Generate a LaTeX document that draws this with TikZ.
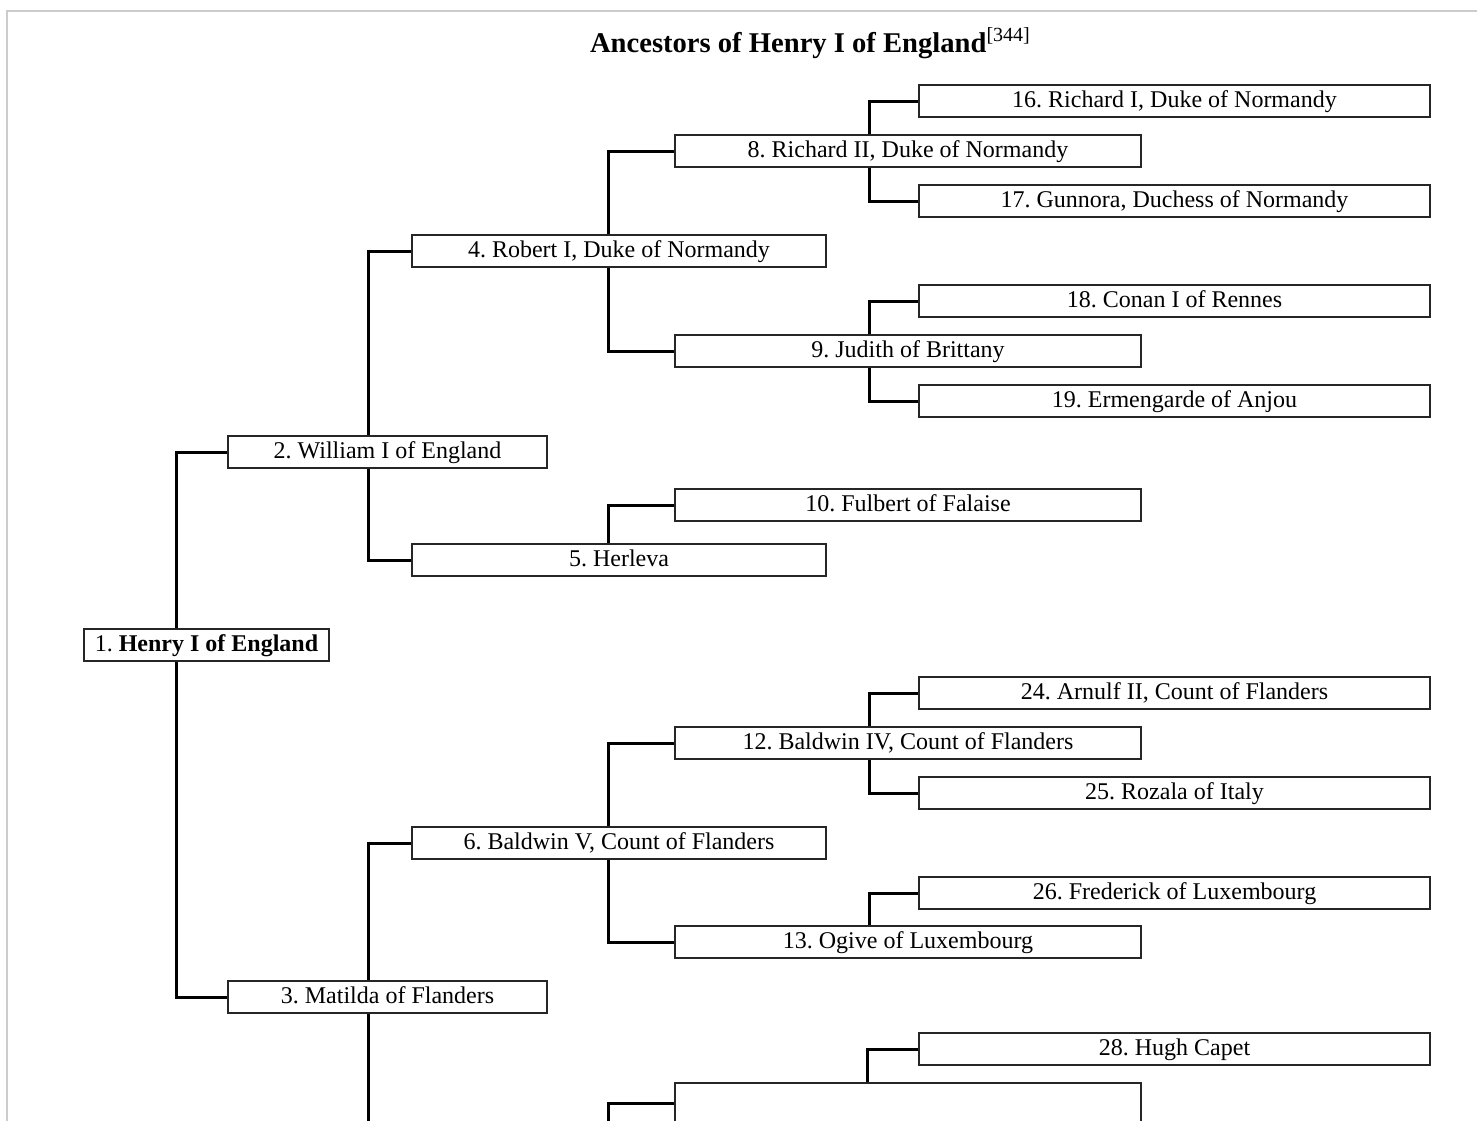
\documentclass[tikz,border=0pt]{standalone}
\usepackage{fontspec}
\setmainfont{Liberation Serif}
\usepackage{tikz}
\usetikzlibrary{calc, positioning}
\frenchspacing

\begin{document}
\begin{tikzpicture}[x=0.5pt, y=-0.5pt,
        anc/.style={draw=black!85, line width=0.9pt, fill=white, inner sep=0pt,
            minimum height=16pt, text height=9.3pt, text depth=2.5pt,
            font=\fontsize{12}{14}\selectfont},
        gena/.style={anc, minimum width=122.5pt},
        genb/.style={anc, minimum width=159.5pt},
        genc/.style={anc, minimum width=207pt},
        gend/.style={anc, minimum width=233pt},
        gene/.style={anc, minimum width=255.5pt},
        link/.style={line width=1.5pt, black}]
            \path[use as bounding box] (0,0) rectangle (1477,1120);
            \clip (0,0) rectangle (1477,1120);
            \draw[gray!40, line width=1pt] (7,1140) -- (7,11) -- (1490,11);

            \node[anchor=base west, font=\fontsize{14.3}{17}\selectfont\bfseries] (title) at (583,52)
                {Ancestors of Henry I of England\textsuperscript{\normalfont[344]}};

            % columns of the connectors
            \coordinate (c1) at (176,0);
            \coordinate (c2) at (368,0);
            \coordinate (c3) at (608,0);
            \coordinate (c4) at (869,0);
            \coordinate (below) at (0,1140);

            \node[gena] (n1) at (206.5,645) {1. \textbf{Henry I of England}};

            \node[genb] (n2) at (387.5,452) {2. William I of England};
            \node[genb] (n3) at (387.5,997) {3. Matilda of Flanders};

            \node[genc] (n4) at (619,251) {4. Robert I, Duke of Normandy};
            \node[genc] (n5) at (619,560) {5. Herleva};
            \node[genc] (n6) at (619,843) {6. Baldwin V, Count of Flanders};

            \node[gend] (n8) at (908,151) {8. Richard II, Duke of Normandy};
            \node[gend] (n9) at (908,351) {9. Judith of Brittany};
            \node[gend] (n10) at (908,505) {10. Fulbert of Falaise};
            \node[gend] (n12) at (908,743) {12. Baldwin IV, Count of Flanders};
            \node[gend] (n13) at (908,942) {13. Ogive of Luxembourg};
            \node[gend, minimum height=20pt] (n14) at (908,1103) {};

            \node[gene] (n16) at (1174.5,101) {16. Richard I, Duke of Normandy};
            \node[gene] (n17) at (1174.5,201) {17. Gunnora, Duchess of Normandy};
            \node[gene] (n18) at (1174.5,301) {18. Conan I of Rennes};
            \node[gene] (n19) at (1174.5,401) {19. Ermengarde of Anjou};
            \node[gene] (n24) at (1174.5,693) {24. Arnulf II, Count of Flanders};
            \node[gene] (n25) at (1174.5,793) {25. Rozala of Italy};
            \node[gene] (n26) at (1174.5,893) {26. Frederick of Luxembourg};
            \node[gene] (n28) at (1174.5,1049) {28. Hugh Capet};

            % father above, mother below
            \foreach \p/\f/\m/\c in {n1/n2/n3/c1, n2/n4/n5/c2, n4/n8/n9/c3, n6/n12/n13/c3,
                    n8/n16/n17/c4, n9/n18/n19/c4, n12/n24/n25/c4} {
                \draw[link] (\f.west) -| (\p.north -| \c);
                \draw[link] (\p.south -| \c) |- (\m.west);
            }
            \draw[link] (n10.west) -| (n5.north -| c3);
            \draw[link] (n26.west) -| (n13.north -| c4);
            \draw[link] (n6.west) -| (n3.north -| c2);
            \draw[link] (n3.south -| c2) -- (below -| c2);
            \draw[link] (n28.west) -| ([xshift=-1pt]n14.north -| c4);
            \draw[link] (n14.west) -| (below -| c3);
        \end{tikzpicture}
\end{document}
